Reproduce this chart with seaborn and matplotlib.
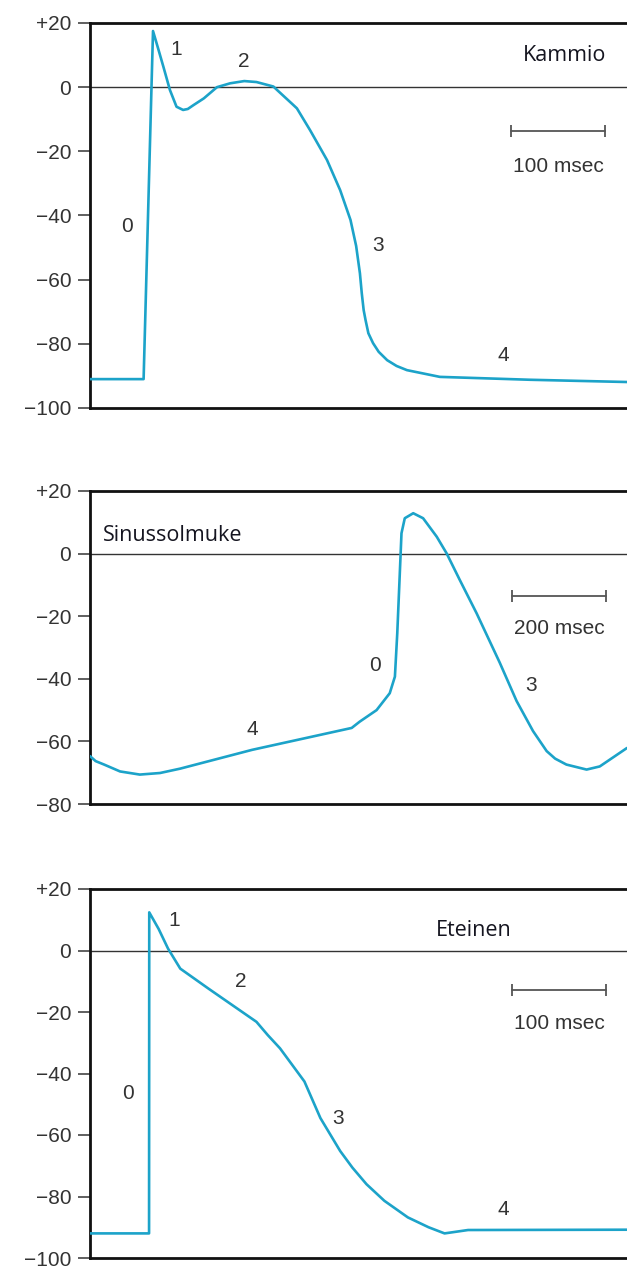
import numpy as np
import pandas as pd
import matplotlib
matplotlib.use("Agg")
import matplotlib.pyplot as plt
import seaborn as sns

### Aktiopotentiaalit (ms, mV) luettu kuvasta
kammio_t = [0, 57, 67, 72, 78, 85, 92, 99, 104, 110, 121, 135, 149, 164, 177, 195, 199, 216, 220,
            234, 252, 266, 277, 283, 287, 289, 291, 293, 296, 301, 307, 316, 326, 337, 372, 468, 571]
kammio_v = [-91, -91, 17.5, 12.5, 6.4, -0.9, -6.1, -7.1, -6.8, -5.6, -3.5, 0, 1.2, 1.9, 1.6, 0.2, -0.9, -5.5, -6.6,
            -13.4, -22.7, -32.1, -41.4, -49.5, -58.0, -64.3, -69.5, -72.6, -76.7, -79.8, -82.5, -85.1, -86.9, -88.2, -90.3, -91.2, -91.9]

sinus_t = [0, 12, 30, 64, 106, 149, 192, 345, 557, 574, 610, 638, 649, 654, 660, 663, 670, 688,
           709, 738, 759, 787, 823, 872, 908, 943, 972, 990, 1014, 1057, 1085, 1143]
sinus_v = [-64.7, -66.3, -67.4, -69.6, -70.6, -70.1, -68.7, -62.7, -55.7, -53.7, -50, -44.6, -39.3, -25.5, -4.2, 6.5, 11.3, 12.9,
           11.3, 5.4, 0.1, -8.4, -19.1, -34.8, -47.1, -56.7, -63.1, -65.5, -67.4, -69, -68, -62.1]

eteinen_t = [0, 62.8, 63.0, 73, 83, 96, 126, 177, 189, 202, 215, 228, 245, 266, 279,
             294, 313, 338, 360, 377, 402, 571]
eteinen_v = [-92, -92, 12.4, 7, 0.6, -5.9, -12.4, -23.2, -27.5, -31.8, -37.2, -42.6, -54.5, -65.2, -70.6,
             -76, -81.4, -86.8, -90, -92, -90.9, -90.8]

y_ticks_1 = [20, 0, -20, -40, -60, -80, -100]
y_ticks_2 = [20, 0, -20, -40, -60, -80]
tick_txt = {20: "+20", 0: "0", -20: "\u221220", -40: "\u221240", -60: "\u221260", -80: "\u221280", -100: "\u2212100"}

# vaiheiden numerot: (teksti, t, V)
kammio_lab = [("0", 39, -43.3), ("1", 92, 11.6), ("2", 164, 7.9), ("3", 306, -49.2), ("4", 440, -83.5)]
sinus_lab = [("0", 606, -35.9), ("4", 345, -56.2), ("3", 938, -42.3)]
eteinen_lab = [("0", 40, -46.4), ("1", 89, 9.7), ("2", 160, -10.2), ("3", 264, -54.5), ("4", 440, -84.1)]

skaala = [100, 200, 100]  # msec

sns.set_style("ticks")
plt.rcParams["font.family"] = ["Liberation Sans", "DejaVu Sans"]

vari = "#1ca3c9"
fig = plt.figure(figsize = (6.27, 12.69), dpi = 100)
W = 627; H = 1269
def paikka(top, bottom):
    return [90 / W, 1 - bottom / H, 1 - 90 / W, (bottom - top) / H]

ax1 = fig.add_axes(paikka(23, 408))
ax2 = fig.add_axes(paikka(491, 804))
ax3 = fig.add_axes(paikka(889, 1258))

paneelit = [
    (ax1, kammio_t, kammio_v, (0, 571), (-100, 20), y_ticks_1, kammio_lab, "Kammio", (505, 10, "center"), (448, -13.6), -24.8),
    (ax2, sinus_t, sinus_v, (0, 1143), (-80, 20), y_ticks_2, sinus_lab, "Sinussolmuke", (28, 5.9, "left"), (898, -13.7), -24),
    (ax3, eteinen_t, eteinen_v, (0, 571), (-100, 20), y_ticks_1, eteinen_lab, "Eteinen", (408, 6.5, "center"), (449, -12.9), -23.7),
]

for i, (ax, t, v, xl, yl, yt, labs, nimi, npos, sb, sby) in enumerate(paneelit):
    df = pd.DataFrame({"t": t, "V": v})
    ax.axhline(0, color = "#333333", lw = 1.0, zorder = 1)
    sns.lineplot(data = df, x = "t", y = "V", sort = False, estimator = None,
                 color = vari, lw = 1.9, ax = ax, zorder = 3)
    ax.lines[-1].set_solid_joinstyle("round")
    ax.set_xlim(*xl)
    ax.set_ylim(*yl)
    ax.set_xticks([])
    ax.set_yticks(yt)
    ax.set_yticklabels([tick_txt[k] for k in yt])
    ax.set_xlabel("")
    ax.set_ylabel("")
    ax.tick_params(axis = "y", direction = "out", length = 8.5, width = 1.2, color = "#444444",
                   pad = 5, labelsize = 15, labelcolor = "#333333")
    for s in ["left", "top", "bottom"]:
        ax.spines[s].set_color("#111111")
        ax.spines[s].set_linewidth(2)
    ax.spines["right"].set_visible(False)
    for txt, tx, ty in labs:
        ax.text(tx, ty, txt, fontsize = 15, color = "#333333", ha = "center", va = "center")
    ax.text(npos[0], npos[1], nimi, fontsize = 15.5, family = ["Open Sans", "DejaVu Sans"],
            color = "#151520", ha = npos[2], va = "center")
    # mittakaava
    x0 = sb[0]; x1 = sb[0] + skaala[i]
    ax.plot([x0, x1], [sb[1], sb[1]], color = "#555555", lw = 1.3, marker = "|", markersize = 9,
            markeredgewidth = 1.3)
    ax.text((x0 + x1) / 2, sby, f"{skaala[i]} msec", fontsize = 15, color = "#333333",
            ha = "center", va = "center")

plt.savefig("out.png", dpi = 100)
